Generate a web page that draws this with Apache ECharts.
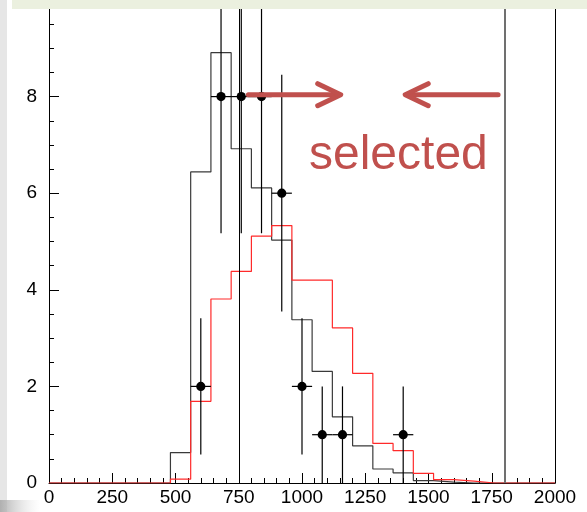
<!DOCTYPE html>
<html>
<head>
<meta charset="utf-8">
<script src="https://cdn.jsdelivr.net/npm/echarts@6/dist/echarts.min.js"></script>
<style>
  html, body { margin: 0; padding: 0; background: #ffffff; }
  #chart { width: 587px; height: 512px; }
</style>
</head>
<body>
<div id="chart"></div>
<script>
// Histogram binning: 25 bins of width 80 spanning 0..2000
const binStart = 0;
const binWidth = 80;

// Simulated distribution (black outline)
const simCounts = [0, 0, 0, 0, 0, 0, 0.63, 6.44, 8.91, 6.92, 6.11, 5.03, 3.38, 2.31, 1.37, 0.77, 0.29, 0.21, 0.05, 0.02, 0, 0, 0, 0, 0];
// Alternative distribution (red outline)
const altCounts = [0, 0, 0, 0, 0, 0, 0.08, 1.69, 3.81, 4.38, 5.11, 5.33, 4.20, 4.20, 3.21, 2.27, 0.82, 0.67, 0.20, 0.07, 0.04, 0, 0, 0, 0];

// Observed events (bin centres, counts, Poisson errors)
const obsX = [600, 680, 760, 840, 920, 1000, 1080, 1160, 1400];
const obsY = [2, 8, 8, 8, 6, 2, 1, 1, 1];
const obsErr = [1.41, 2.83, 2.83, 2.83, 2.45, 1.41, 1.0, 1.0, 1.0];

// Axis ticks
const xTicks = [0, 250, 500, 750, 1000, 1250, 1500, 1750, 2000];
const yTicks = [0, 2, 4, 6, 8];

// Selection window edges
const cutLow = 750;
const cutHigh = 1800;

const RED = '#c0504d';

function stepData(counts) {
  const pts = [];
  counts.forEach((v, i) => pts.push([binStart + i * binWidth, v]));
  pts.push([binStart + counts.length * binWidth, 0]);
  return pts;
}

const chart = echarts.init(document.getElementById('chart'), null, { renderer: 'canvas' });

const labelFont = { fontFamily: 'Liberation Sans, Arial, sans-serif', fontSize: 19, color: '#000' };

const option = {
  animation: false,
  backgroundColor: '#ffffff',
  grid: { left: 49, right: 32, top: -2, bottom: 29, containLabel: false },
  xAxis: {
    type: 'value',
    min: xTicks[0],
    max: xTicks[xTicks.length - 1],
    interval: xTicks[1] - xTicks[0],
    axisLine: { show: true, onZero: false, lineStyle: { color: '#000', width: 1 } },
    axisTick: { show: true, inside: true, length: 10, lineStyle: { color: '#000' } },
    minorTick: { show: true, splitNumber: 5, length: 5, lineStyle: { color: '#000' } },
    axisLabel: Object.assign({ margin: 5, formatter: v => String(v) }, labelFont),
    splitLine: { show: false }
  },
  yAxis: [{
    type: 'value',
    min: 0,
    max: 10,
    interval: yTicks[1] - yTicks[0],
    axisLine: { show: true, lineStyle: { color: '#000', width: 1 } },
    axisTick: { show: true, inside: true, length: 10, lineStyle: { color: '#000' } },
    minorTick: { show: true, splitNumber: 4, length: 5, lineStyle: { color: '#000' } },
    axisLabel: Object.assign({ margin: 12, showMaxLabel: false, formatter: v => String(v) }, labelFont),
    splitLine: { show: false }
  }, {
    type: 'value',
    position: 'right',
    min: 0,
    max: 10,
    axisLine: { show: true, lineStyle: { color: '#000', width: 1 } },
    axisTick: { show: false },
    axisLabel: { show: false },
    splitLine: { show: false }
  }],
  series: [
    {
      name: 'sim',
      type: 'line',
      step: 'end',
      data: stepData(simCounts),
      showSymbol: false,
      lineStyle: { color: '#3a3a3a', width: 1.2 },
      z: 2
    },
    {
      name: 'alt',
      type: 'line',
      step: 'end',
      data: stepData(altCounts),
      showSymbol: false,
      lineStyle: { color: '#ff2a2a', width: 1.2 },
      z: 3,
      markLine: {
        silent: true,
        symbol: ['none', 'none'],
        label: { show: false },
        data: [
          { xAxis: cutLow, lineStyle: { color: '#000', width: 1, type: 'solid' } },
          { xAxis: cutHigh, lineStyle: { color: '#707070', width: 2, type: 'solid' } }
        ]
      }
    },
    {
      name: 'data',
      type: 'custom',
      z: 5,
      data: obsX.map((x, i) => [x, obsY[i], obsErr[i]]),
      renderItem: function (params, api) {
        const x = api.value(0), y = api.value(1), e = api.value(2);
        const c = api.coord([x, y]);
        const lo = api.coord([x, y - e]);
        const hi = api.coord([x, y + e]);
        const l = api.coord([x - binWidth / 2, y]);
        const r = api.coord([x + binWidth / 2, y]);
        const st = { stroke: '#000', lineWidth: 1.2 };
        return {
          type: 'group',
          children: [
            { type: 'line', shape: { x1: c[0], y1: lo[1], x2: c[0], y2: hi[1] }, style: st },
            { type: 'line', shape: { x1: l[0], y1: c[1], x2: r[0], y2: c[1] }, style: st },
            { type: 'circle', shape: { cx: c[0], cy: c[1], r: 4.6 }, style: { fill: '#000' } }
          ]
        };
      }
    },
    {
      name: 'arrows',
      type: 'custom',
      z: 10,
      data: [[788, 1153, 8.04], [1775, 1408, 8.04]],
      renderItem: function (params, api) {
        const y = api.value(2);
        const t = api.coord([api.value(0), y]);
        const h = api.coord([api.value(1), y]);
        const d = h[0] > t[0] ? 1 : -1;
        const st = { stroke: RED, lineWidth: 5, lineCap: 'round', lineJoin: 'round', fill: null };
        return {
          type: 'group',
          children: [
            { type: 'line', shape: { x1: t[0], y1: t[1], x2: h[0] - d * 2, y2: h[1] }, style: st },
            { type: 'polyline', shape: { points: [[h[0] - d * 23, h[1] - 11], [h[0], h[1]], [h[0] - d * 23, h[1] + 11]] }, style: st }
          ]
        };
      }
    }
  ],
  graphic: [
    { type: 'rect', z: 100, shape: { x: 0, y: 0, width: 7, height: 512 }, style: { fill: '#e6e6e6' } },
    { type: 'rect', z: 100, shape: { x: 12, y: 0, width: 575, height: 9 }, style: { fill: '#ebf0df' } },
    {
      type: 'rect', z: 100, shape: { x: 0, y: 500, width: 40, height: 12 },
      style: {
        fill: new echarts.graphic.LinearGradient(0, 0, 1, 0, [
          { offset: 0, color: 'rgba(170,170,170,0.9)' },
          { offset: 1, color: 'rgba(220,220,220,0)' }
        ])
      }
    },
    {
      type: 'text', z: 100, left: 309, top: 132,
      style: { text: 'selected', font: '48px "Liberation Sans", Arial, sans-serif', fill: RED }
    }
  ]
};

chart.setOption(option);
</script>
</body>
</html>
